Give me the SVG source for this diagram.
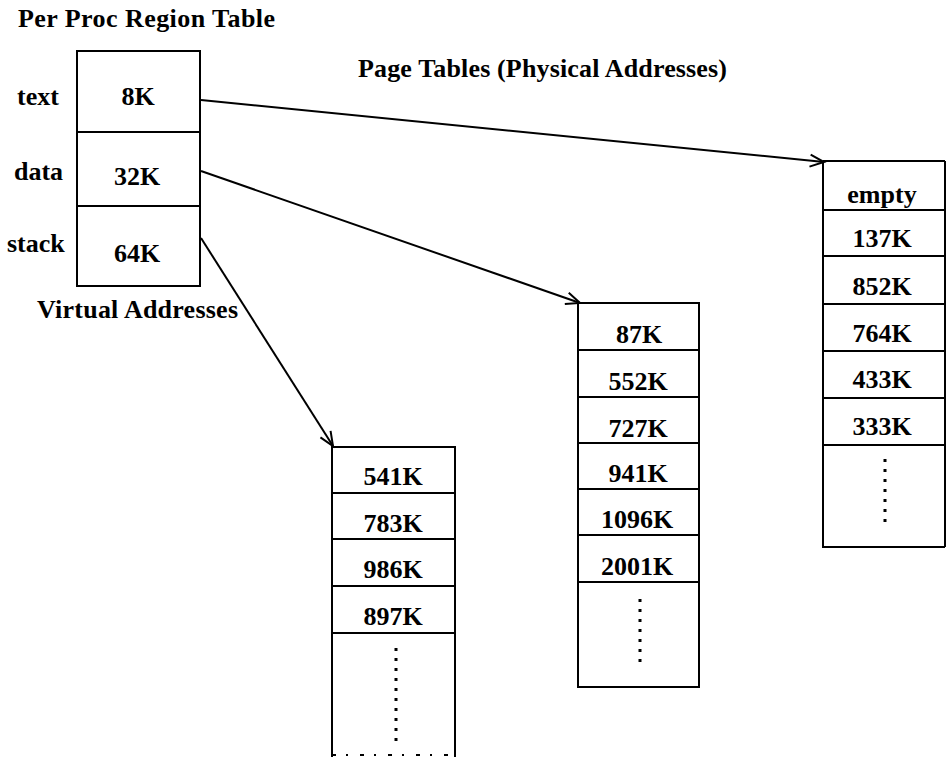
<svg xmlns="http://www.w3.org/2000/svg" width="947" height="757" viewBox="0 0 947 757">
<style>
text{font-family:"Liberation Serif","Times New Roman",serif;font-weight:bold;font-size:26px;fill:#000}
.c{text-anchor:middle}
.box{fill:none;stroke:#000;stroke-width:2}
.div{stroke:#000;stroke-width:2}
.dots{stroke:#000;stroke-width:3;stroke-dasharray:3 7}
.conn{fill:none;stroke:#000;stroke-width:2;marker-end:url(#arr)}
</style>
<defs>
<marker id="arr" markerUnits="userSpaceOnUse" markerWidth="20" markerHeight="20" viewBox="-16 -8 20 16" refX="0" refY="0" orient="auto">
<path d="M-14,-6 L0,0 L-14,6" fill="none" stroke="#000" stroke-width="2"/>
</marker>
</defs>
<rect width="947" height="757" fill="#fff"/>
<text x="18" y="27" textLength="257" lengthAdjust="spacing">Per Proc Region Table</text>
<text x="358" y="77" textLength="369" lengthAdjust="spacing">Page Tables (Physical Addresses)</text>
<text x="37" y="318" textLength="201" lengthAdjust="spacing">Virtual Addresses</text>

<g id="region-table">
<rect class="box" x="77" y="51" width="123" height="235"/>
<line class="div" x1="77" y1="132" x2="200" y2="132"/>
<line class="div" x1="77" y1="206" x2="200" y2="206"/>
<text x="17" y="105">text</text>
<text class="c" x="138" y="105">8K</text>
<text x="14" y="180">data</text>
<text class="c" x="137" y="185">32K</text>
<text x="7" y="252">stack</text>
<text class="c" x="137" y="262">64K</text>
</g>

<g id="text-page-table">
<path class="box" d="M823,161 H945 M823,161 V547 H945"/>
<line class="div" x1="945" y1="161" x2="945" y2="547"/>
<line class="div" x1="823" y1="210" x2="945" y2="210"/>
<line class="div" x1="823" y1="256" x2="945" y2="256"/>
<line class="div" x1="823" y1="304" x2="945" y2="304"/>
<line class="div" x1="823" y1="351" x2="945" y2="351"/>
<line class="div" x1="823" y1="398" x2="945" y2="398"/>
<line class="div" x1="823" y1="445" x2="945" y2="445"/>
<text class="c" x="882" y="203">empty</text>
<text class="c" x="882" y="247">137K</text>
<text class="c" x="882" y="295">852K</text>
<text class="c" x="882" y="342">764K</text>
<text class="c" x="882" y="388">433K</text>
<text class="c" x="882" y="435">333K</text>
<line class="dots" x1="885" y1="459" x2="885" y2="525"/>
</g>

<g id="data-page-table">
<rect class="box" x="578" y="303" width="121" height="384"/>
<line class="div" x1="578" y1="350" x2="699" y2="350"/>
<line class="div" x1="578" y1="397" x2="699" y2="397"/>
<line class="div" x1="578" y1="443" x2="699" y2="443"/>
<line class="div" x1="578" y1="489" x2="699" y2="489"/>
<line class="div" x1="578" y1="535" x2="699" y2="535"/>
<line class="div" x1="578" y1="582" x2="699" y2="582"/>
<text class="c" x="639" y="343">87K</text>
<text class="c" x="638" y="390">552K</text>
<text class="c" x="638" y="437">727K</text>
<text class="c" x="638" y="482">941K</text>
<text class="c" x="637" y="528">1096K</text>
<text class="c" x="637" y="575">2001K</text>
<line class="dots" x1="640" y1="599" x2="640" y2="665"/>
</g>

<g id="stack-page-table">
<path class="box" d="M332,757 V447 H455 V757"/>
<line class="div" x1="332" y1="493" x2="455" y2="493"/>
<line class="div" x1="332" y1="539" x2="455" y2="539"/>
<line class="div" x1="332" y1="586" x2="455" y2="586"/>
<line class="div" x1="332" y1="633" x2="455" y2="633"/>
<line x1="332" y1="755" x2="455" y2="755" stroke="#000" stroke-width="2" stroke-dasharray="4 10 2 12"/>
<text class="c" x="393" y="485">541K</text>
<text class="c" x="393" y="532">783K</text>
<text class="c" x="393" y="578">986K</text>
<text class="c" x="393" y="625">897K</text>
<line class="dots" x1="396" y1="648" x2="396" y2="748"/>
</g>

<g id="connectors">
<line class="conn" x1="201" y1="100" x2="824" y2="162"/>
<line class="conn" x1="201" y1="171" x2="580" y2="303"/>
<line class="conn" x1="201" y1="238" x2="333" y2="446"/>
</g>
</svg>
